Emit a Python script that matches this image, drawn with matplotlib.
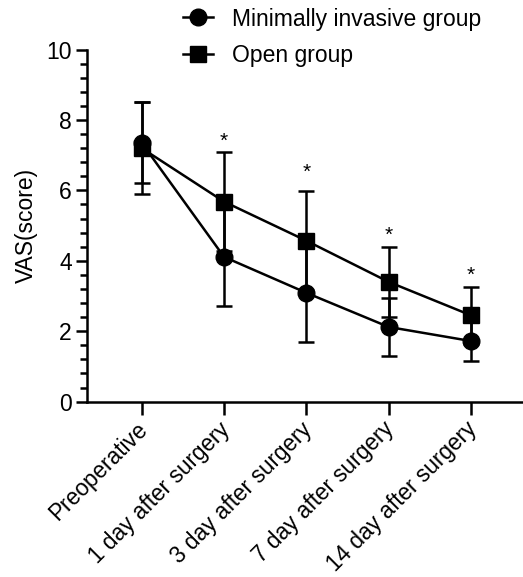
import numpy as np
import matplotlib
matplotlib.use("Agg")
import matplotlib.pyplot as plt
import matplotlib.transforms as mtransforms
from matplotlib.ticker import MultipleLocator
from matplotlib.lines import Line2D

# --- data ---
time_points = ["Preoperative", "1 day after surgery", "3 day after surgery",
               "7 day after surgery", "14 day after surgery"]
mi_mean = [7.35, 4.11, 3.09, 2.12, 1.72]
mi_sd = [1.15, 1.40, 1.40, 0.82, 0.57]
open_mean = [7.20, 5.68, 4.57, 3.40, 2.45]
open_sd = [1.30, 1.40, 1.40, 1.00, 0.80]
star_at = [1, 2, 3, 4]
star_y = [7.40, 6.50, 4.73, 3.59]

plt.rcParams['font.family'] = ['Liberation Sans', 'DejaVu Sans']
fs = 16.5

fig = plt.figure(figsize=(5.23, 5.77), dpi=100)
ax = fig.add_axes([0.1663, 0.304, 0.832, 0.610])

x = np.arange(len(time_points))
lw = 1.8
common = dict(color='black', lw=lw, elinewidth=lw, capsize=6, capthick=lw,
              markersize=12, clip_on=False)
ax.errorbar(x, mi_mean, yerr=mi_sd, marker='o', **common)
ax.errorbar(x, open_mean, yerr=open_sd, marker='s', **common)

for i, yv in zip(star_at, star_y):
    ax.text(x[i], yv, '*', ha='center', va='center', fontsize=15)

ax.set_xlim(-0.665, 4.62)
ax.set_ylim(0, 10)
ax.yaxis.set_major_locator(MultipleLocator(2))
ax.yaxis.set_minor_locator(MultipleLocator(0.4))
ax.set_xticks(x)
ax.set_xticklabels(time_points, rotation=45, ha='right', rotation_mode='anchor',
                   fontsize=16.3)
ax.tick_params(axis='y', labelsize=fs, pad=3)
ax.tick_params(which='major', width=lw, length=8, color='black')
ax.tick_params(which='minor', width=lw, length=5, color='black')
ax.tick_params(axis='x', length=9, pad=4)
ax.set_ylabel('VAS(score)', fontsize=fs, labelpad=6)

# shift the slanted labels a little left/up, like the original
# (after tick_params, which would reset the transforms)
shift = mtransforms.ScaledTranslation(-6 / 100, 2 / 100, fig.dpi_scale_trans)
for lab in ax.get_xticklabels():
    lab.set_transform(lab.get_transform() + shift)

for s in ['top', 'right']:
    ax.spines[s].set_visible(False)
for s in ['left', 'bottom']:
    ax.spines[s].set_linewidth(lw)

handles = [Line2D([], [], color='black', lw=lw, marker='o', markersize=12),
           Line2D([], [], color='black', lw=lw, marker='s', markersize=12)]
labels = ['Minimally invasive group', 'Open group']
fig.legend(handles, labels, loc='upper left', bbox_to_anchor=(0.35, 0.987),
           frameon=False, fontsize=fs, handlelength=1.3, labelspacing=0.6,
           handletextpad=0.85, borderpad=0, borderaxespad=0)

plt.savefig('out.png', dpi=100)
